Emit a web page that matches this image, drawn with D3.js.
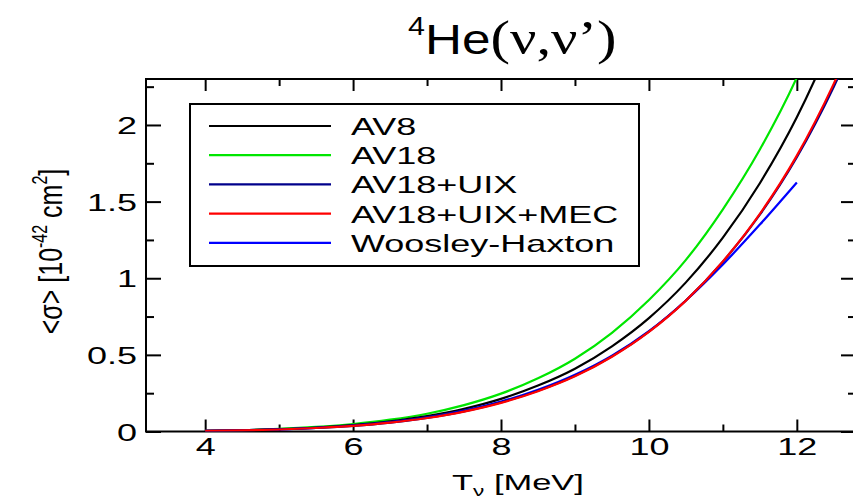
<!DOCTYPE html>
<html>
<head>
<meta charset="utf-8">
<script src="https://cdn.jsdelivr.net/npm/d3@7"></script>
<style>
  body { margin: 0; background: #fff; }
  svg text { font-family: "Liberation Sans", Arial, sans-serif; fill: #000; }
</style>
</head>
<body>
<div id="chart"></div>
<script>
// energies (MeV) where the curves were read
var energies = [4, 4.5, 5, 5.5, 6, 6.5, 7, 7.5, 8, 8.5, 9, 9.5, 10, 10.5, 11, 11.5, 12, 12.5, 13];
// cross sections in 10^-42 cm^2
var av8 = [0.005, 0.008, 0.015, 0.026, 0.042, 0.066, 0.10, 0.148, 0.213, 0.30, 0.41, 0.556, 0.74, 0.973, 1.265, 1.62, 2.05, 2.58, 3.2];
var av18 = [0.005, 0.009, 0.017, 0.030, 0.049, 0.077, 0.116, 0.172, 0.247, 0.347, 0.475, 0.644, 0.858, 1.12, 1.45, 1.84, 2.31, 2.9, 3.6];
var av18uix = [0.004, 0.007, 0.013, 0.023, 0.037, 0.058, 0.089, 0.131, 0.19, 0.266, 0.364, 0.49, 0.652, 0.855, 1.108, 1.415, 1.79, 2.25, 2.8];
var av18uixmec = [0.004, 0.007, 0.013, 0.023, 0.037, 0.058, 0.088, 0.13, 0.187, 0.263, 0.36, 0.488, 0.65, 0.854, 1.11, 1.42, 1.80, 2.27, 2.83];
var whEnergies = [4, 4.5, 5, 5.5, 6, 6.5, 7, 7.5, 8, 8.5, 9, 9.5, 10, 10.5, 11, 11.5, 12];
var woosleyHaxton = [0.004, 0.008, 0.014, 0.024, 0.039, 0.061, 0.093, 0.136, 0.195, 0.272, 0.37, 0.495, 0.655, 0.855, 1.09, 1.35, 1.625];

var seriesNames = ["AV8", "AV18", "AV18+UIX", "AV18+UIX+MEC", "Woosley-Haxton"];
var seriesColors = ["#000000", "#00e600", "#00008b", "#ff0000", "#0000ff"];
var xTicks = [4, 6, 8, 10, 12];
var xMinor = [5, 7, 9, 11];
var yTicks = [0, 0.5, 1, 1.5, 2];
var yMinor = [0.25, 0.75, 1.25, 1.75, 2.25];

var width = 853, height = 501;
var pLeft = 146, pRight = 856, pTop = 79, pBottom = 431.5;
var SX = 1.5; // text is drawn wide in the original

var svg = d3.select("#chart").append("svg")
    .attr("width", width).attr("height", height);

var x = d3.scaleLinear().domain([3.2, 12.8]).range([pLeft, pRight]);
var y = d3.scaleLinear().domain([0, 2.3]).range([pBottom, pTop]);

svg.append("clipPath").attr("id", "plotclip")
    .append("rect").attr("x", pLeft).attr("y", pTop)
    .attr("width", pRight - pLeft).attr("height", pBottom - pTop);

//坐标轴刻度 (all ticks point inward)
function addAxis(axis, tx, ty, labels) {
    var g = svg.append("g").attr("transform", "translate(" + tx + "," + ty + ")").call(axis);
    g.select(".domain").remove();
    g.selectAll("line").attr("stroke", "#000").attr("stroke-width", 2);
    if (!labels) g.selectAll("text").remove();
    return g;
}

var gx = addAxis(d3.axisBottom(x).tickValues(xTicks).tickSize(-12).tickFormat(d3.format("d")), 0, pBottom, true);
gx.selectAll("text")
    .attr("font-size", 24).attr("dy", null).attr("y", 23.5).attr("x", 0)
    .attr("transform", "scale(" + SX + ",1)")
    .attr("font-family", "Liberation Sans, Arial, sans-serif");
addAxis(d3.axisBottom(x).tickValues(xMinor).tickSize(-7), 0, pBottom, false);
addAxis(d3.axisTop(x).tickValues(xTicks).tickSize(-12), 0, pTop, false);
addAxis(d3.axisTop(x).tickValues(xMinor).tickSize(-7), 0, pTop, false);

var gy = addAxis(d3.axisLeft(y).tickValues(yTicks).tickSize(-15).tickFormat(d3.format("")), pLeft, 0, true);
gy.selectAll("text")
    .attr("font-size", 24).attr("dy", null).attr("y", 8.5).attr("x", -9 / SX)
    .attr("text-anchor", "end")
    .attr("transform", "scale(" + SX + ",1)")
    .attr("font-family", "Liberation Sans, Arial, sans-serif");
addAxis(d3.axisLeft(y).tickValues(yMinor).tickSize(-8), pLeft, 0, false);
addAxis(d3.axisRight(y).tickValues(yTicks).tickSize(-15), pRight, 0, false);
addAxis(d3.axisRight(y).tickValues(yMinor).tickSize(-8), pRight, 0, false);

// frame
svg.append("rect")
    .attr("x", pLeft).attr("y", pTop)
    .attr("width", pRight - pLeft).attr("height", pBottom - pTop)
    .attr("fill", "none").attr("stroke", "#000").attr("stroke-width", 2);

//曲线
var line = d3.line()
    .x(function (d) { return x(d[0]); })
    .y(function (d) { return y(d[1]); })
    .curve(d3.curveMonotoneX);

var curves = [
    { xs: energies, ys: av18, color: seriesColors[1] },
    { xs: energies, ys: av8, color: seriesColors[0] },
    { xs: whEnergies, ys: woosleyHaxton, color: seriesColors[4] },
    { xs: energies, ys: av18uix, color: seriesColors[2] },
    { xs: energies, ys: av18uixmec, color: seriesColors[3] }
];
var plot = svg.append("g").attr("clip-path", "url(#plotclip)");
curves.forEach(function (c) {
    plot.append("path")
        .datum(d3.zip(c.xs, c.ys))
        .attr("d", line)
        .attr("fill", "none")
        .attr("stroke", c.color)
        .attr("stroke-width", 2.2);
});

//图例
var legend = svg.append("g");
legend.append("rect")
    .attr("x", 190).attr("y", 104).attr("width", 449).attr("height", 162)
    .attr("fill", "#fff").attr("stroke", "#000").attr("stroke-width", 2);
seriesNames.forEach(function (name, i) {
    var ly = 126 + i * 29.2;
    legend.append("line")
        .attr("x1", 209).attr("x2", 331).attr("y1", ly).attr("y2", ly)
        .attr("stroke", seriesColors[i]).attr("stroke-width", 2.2);
    legend.append("text")
        .attr("transform", "translate(351," + (ly + 9) + ") scale(" + SX + ",1)")
        .attr("font-size", 24)
        .text(name);
});

// title
var title = svg.append("text")
    .attr("transform", "translate(408,54) scale(1.22,1)");
title.append("tspan").attr("font-size", 25).attr("dy", -19).text("4");
title.append("tspan").attr("font-size", 42).attr("dy", 19).text("He");
title.append("tspan").attr("font-size", 48)
    .attr("font-family", "Liberation Serif, Times New Roman, serif")
    .text("(\u03bd,\u03bd\u2019)");

// axis titles
var xt = svg.append("text")
    .attr("transform", "translate(452,490) scale(" + SX + ",1)")
    .attr("font-size", 23);
xt.append("tspan").text("T");
xt.append("tspan").attr("font-size", 15).attr("dy", 6).text("\u03bd");
xt.append("tspan").attr("dy", -6).text(" [MeV]");

var yt = svg.append("text")
    .attr("transform", "translate(62,251.5) rotate(-90) scale(1,1.35)")
    .attr("text-anchor", "middle")
    .attr("font-size", 25);
yt.append("tspan").text("<\u03c3>  [10");
yt.append("tspan").attr("font-size", 16).attr("dy", -11).text("-42");
yt.append("tspan").attr("dy", 11).text(" cm");
yt.append("tspan").attr("font-size", 16).attr("dy", -11).text("2");
yt.append("tspan").attr("dy", 11).text("]");
</script>
</body>
</html>
